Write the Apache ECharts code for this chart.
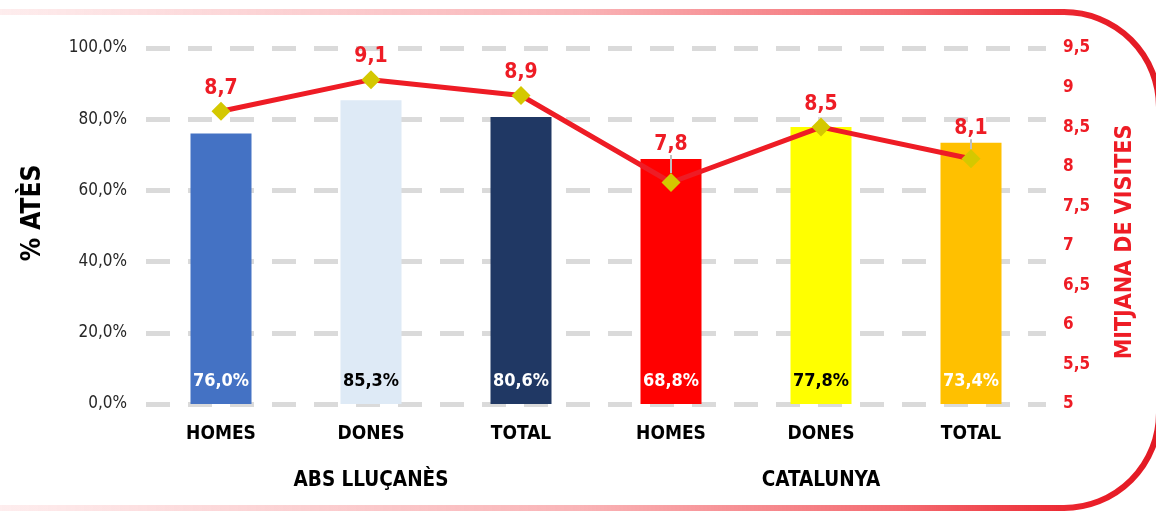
<!DOCTYPE html>
<html>
<head>
<meta charset="utf-8">
<script src="https://cdn.jsdelivr.net/npm/echarts@6/dist/echarts.min.js"></script>
<style>
  html, body { margin: 0; padding: 0; background: #ffffff; }
  #chart { width: 1156px; height: 512px; }
</style>
</head>
<body>
<div id="chart"></div>
<script>
// Categories and groups
const categories = ['HOMES', 'DONES', 'TOTAL', 'HOMES', 'DONES', 'TOTAL'];
const groups = ['ABS LLUÇANÈS', 'CATALUNYA'];
// % atès per categoria
const pctAttended = [76.0, 85.3, 80.6, 68.8, 77.8, 73.4];
// Mitjana de visites per categoria
const meanVisits = [8.7, 9.1, 8.9, 7.8, 8.5, 8.1];

const barColors = ['#4472c4', '#deeaf6', '#203864', '#ff0000', '#ffff00', '#ffc000'];
const barLabelColors = ['#ffffff', '#000000', '#ffffff', '#ffffff', '#000000', '#ffffff'];
// labels lifted above the line, joined to their point by a guide line
const liftedLabels = { 3: -15, 5: -7 };

const FONT = '"DejaVu Sans Condensed", "Liberation Sans Narrow", "Liberation Sans", Arial, sans-serif';
const RED = '#ee1c25';

const fmtComma = (v, d) => v.toFixed(d).replace('.', ',');

const chart = echarts.init(document.getElementById('chart'));

chart.setOption({
  animation: false,
  textStyle: { fontFamily: FONT },
  grid: { left: 146, right: 110, top: 48, bottom: 108 },
  xAxis: [
    {
      type: 'category',
      data: categories,
      axisLine: { show: false },
      axisTick: { show: false },
      axisLabel: { color: '#000', fontWeight: 'bold', fontSize: 19, margin: 21, fontFamily: FONT }
    },
    {
      type: 'category',
      data: groups,
      position: 'bottom',
      offset: 45,
      axisLine: { show: false },
      axisTick: { show: false },
      axisLabel: { color: '#000', fontWeight: 'bold', fontSize: 20.5, margin: 21, fontFamily: FONT }
    }
  ],
  yAxis: [
    {
      type: 'value',
      min: 0, max: 100, interval: 20,
      name: '% ATÈS',
      nameLocation: 'middle',
      nameGap: 100,
      nameTextStyle: {
        color: '#000', fontWeight: 'bold', fontSize: 26, fontFamily: FONT,
        padding: [0, 0, 0, 26]
      },
      axisLine: { show: false },
      axisTick: { show: false },
      axisLabel: {
        color: '#262626', fontSize: 17, margin: 19, fontFamily: FONT,
        formatter: v => fmtComma(v, 1) + '%'
      },
      splitLine: { lineStyle: { color: '#dadada', width: 5, type: [24, 18] } }
    },
    {
      type: 'value',
      min: 5, max: 9.5, interval: 0.5,
      position: 'right',
      name: 'MITJANA DE VISITES',
      nameLocation: 'middle',
      nameGap: 68,
      nameTextStyle: {
        color: RED, fontWeight: 'bold', fontSize: 23, fontFamily: FONT,
        padding: [0, 32, 0, 0]
      },
      axisLine: { show: false },
      axisTick: { show: false },
      axisLabel: {
        color: RED, fontWeight: 'bold', fontSize: 17, margin: 17, fontFamily: FONT,
        formatter: v => String(v).replace('.', ',')
      },
      splitLine: { show: false }
    }
  ],
  series: [
    {
      type: 'bar',
      xAxisIndex: 0,
      yAxisIndex: 0,
      barWidth: 61,
      data: pctAttended.map((v, i) => ({
        value: v,
        itemStyle: { color: barColors[i] },
        label: { color: barLabelColors[i] }
      })),
      label: {
        show: true,
        position: 'insideBottom',
        distance: 14,
        fontWeight: 'bold',
        fontSize: 18,
        fontFamily: FONT,
        formatter: p => fmtComma(p.value, 1) + '%'
      }
    },
    {
      type: 'line',
      xAxisIndex: 0,
      yAxisIndex: 1,
      data: meanVisits.map((v, i) => ({
        value: v,
        labelLine: { show: i in liftedLabels }
      })),
      lineStyle: { color: RED, width: 5 },
      itemStyle: { color: '#d4c800' },
      symbol: 'diamond',
      symbolSize: 19,
      z: 5,
      label: {
        show: true,
        position: 'top',
        distance: 3,
        color: RED,
        fontWeight: 'bold',
        fontSize: 21,
        fontFamily: FONT,
        formatter: p => fmtComma(p.value, 1)
      },
      labelLine: {
        lineStyle: { color: '#bfbfbf', width: 2 }
      },
      labelLayout: p => (p.dataIndex in liftedLabels ? { dy: liftedLabels[p.dataIndex] } : {})
    }
  ],
  graphic: [
    {
      type: 'rect',
      z: -1,
      silent: true,
      shape: { x: -200, y: 12, width: 1359, height: 496, r: 95 },
      style: {
        fill: 'none',
        lineWidth: 6,
        stroke: new echarts.graphic.LinearGradient(0, 0, 1, 0, [
          { offset: 0, color: 'rgba(238,28,37,0.06)' },
          { offset: 0.147, color: 'rgba(238,28,37,0.08)' },
          { offset: 0.572, color: 'rgba(238,28,37,0.33)' },
          { offset: 0.81, color: 'rgba(238,28,37,0.65)' },
          { offset: 0.95, color: 'rgba(234,30,40,1)' },
          { offset: 1, color: 'rgba(225,26,36,1)' }
        ])
      }
    }
  ]
});
</script>
</body>
</html>
